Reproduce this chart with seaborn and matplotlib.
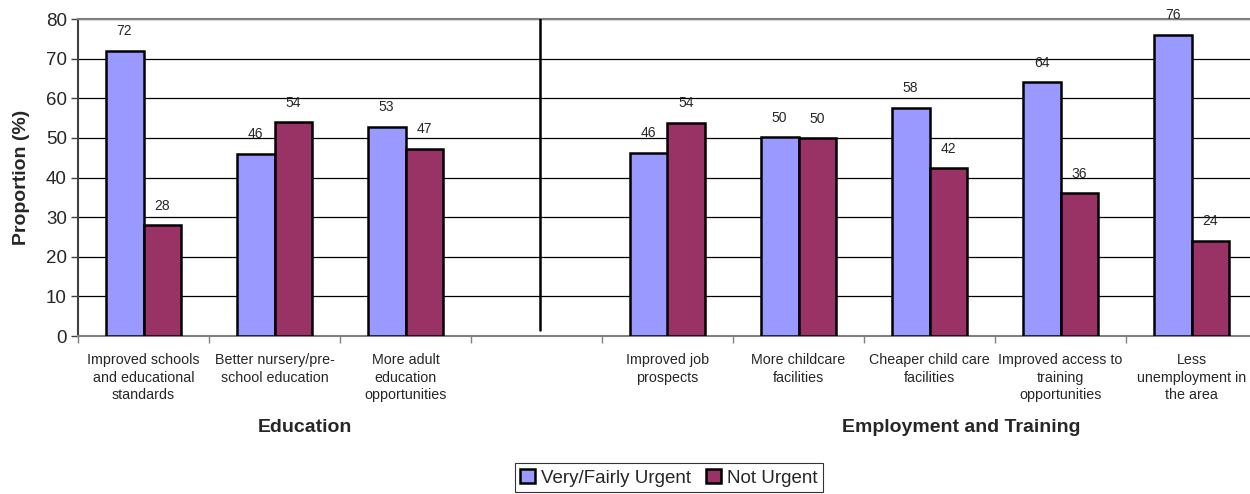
import numpy as np
import pandas as pd
import matplotlib
matplotlib.use('Agg')
import matplotlib.pyplot as plt
import seaborn as sns

# data
categories = ['Improved schools\nand educational\nstandards',
              'Better nursery/pre-\nschool education',
              'More adult\neducation\nopportunities',
              '',
              'Improved job\nprospects',
              'More childcare\nfacilities',
              'Cheaper child care\nfacilities',
              'Improved access to\ntraining\nopportunities',
              'Less\nunemployment in\nthe area']
urgent = [72, 46, 52.8, None, 46.2, 50.1, 57.6, 64, 76]
not_urgent = [28, 54, 47.2, None, 53.8, 49.9, 42.4, 36, 24]
series_names = ['Very/Fairly Urgent', 'Not Urgent']
groups = ['Education', 'Employment and Training']

rows = []
for cat, u, n in zip(categories, urgent, not_urgent):
    if u is None:
        continue
    rows.append({'category': cat, 'series': series_names[0], 'value': u})
    rows.append({'category': cat, 'series': series_names[1], 'value': n})
df = pd.DataFrame(rows)

sns.set_style('white')
plt.rcParams['font.family'] = ['Liberation Sans', 'DejaVu Sans']

fig = plt.figure(figsize=(12.5, 4.94), dpi=100)
ax = fig.add_axes([0.0624, 0.3198, 0.9432, 0.6417])

sns.barplot(data=df, x='category', y='value', hue='series', order=categories,
            hue_order=series_names, palette=['#9999FF', '#993366'], saturation=1,
            width=0.58, edgecolor='black', linewidth=1.8, errorbar=None,
            legend=True, ax=ax, zorder=3)

for cont in ax.containers:
    ax.bar_label(cont, fmt='%.0f', padding=9, fontsize=10)

ax.set_ylim(0, 80)
ax.set_xlim(-0.5, 8.5)
ax.set_yticks(range(0, 81, 10))
ax.tick_params(axis='y', labelsize=13.5, length=5, width=1, color='#404040',
               left=True, pad=3)
ax.yaxis.grid(True, color='black', linewidth=0.9, zorder=0)
ax.set_axisbelow(True)

ax.set_xticks(range(len(categories)))
ax.set_xticklabels(categories, fontsize=10.3, linespacing=1.35)
ax.tick_params(axis='x', which='major', length=0, pad=12)
ax.set_xticks(np.arange(-0.5, 9, 1), minor=True)
ax.tick_params(axis='x', which='minor', length=5, width=1, color='#808080',
               bottom=True)

for side in ['top', 'left', 'bottom', 'right']:
    ax.spines[side].set_color('#808080')
    ax.spines[side].set_linewidth(1.5)
ax.spines['left'].set_color('#404040')

ax.set_xlabel('')
ax.set_ylabel('Proportion (%)', fontsize=14, fontweight='bold')
ax.yaxis.set_label_coords(-0.041, 0.5)

# divider between the two groups
ax.axvline(3.03, ymin=0.02, ymax=1, color='black', linewidth=1.8, zorder=4)

ax.text(1.23, -0.288, groups[0], transform=ax.get_xaxis_transform(),
        ha='center', va='center', fontsize=14, fontweight='bold')
ax.text(6.24, -0.288, groups[1], transform=ax.get_xaxis_transform(),
        ha='center', va='center', fontsize=14, fontweight='bold')

handles, labels = ax.get_legend_handles_labels()
ax.get_legend().remove()
leg = fig.legend(handles, labels, loc='upper center', bbox_to_anchor=(0.535, 0.062),
                 ncol=2, fontsize=13.5, frameon=True, fancybox=False,
                 handlelength=0.8, handleheight=0.8, handletextpad=0.3,
                 columnspacing=0.8, borderpad=0.3, borderaxespad=0)
leg.get_frame().set_edgecolor('black')
leg.get_frame().set_linewidth(0.8)

fig.savefig('out.png', dpi=100)
